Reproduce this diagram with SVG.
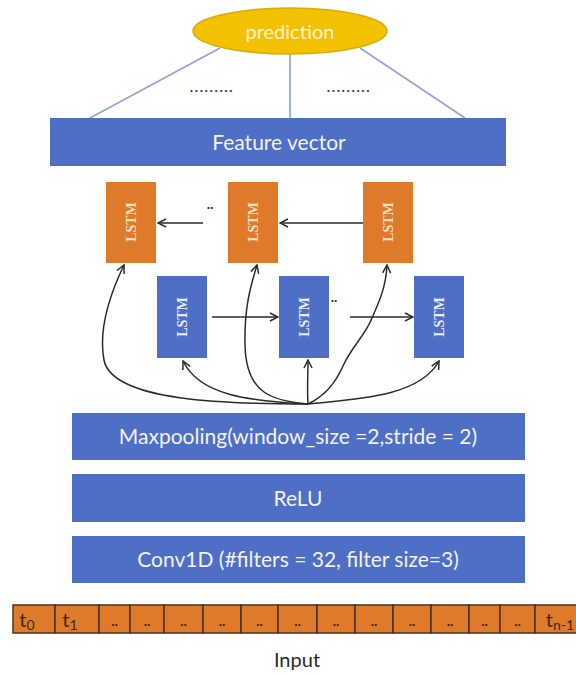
<svg xmlns="http://www.w3.org/2000/svg" width="576" height="675" viewBox="0 0 576 675">
  <style>
    .bar { fill: #4E6FC6; }
    .bar-text { font-family: Lato, "Open Sans", sans-serif; font-size: 21px; fill: #F3F1EA; text-anchor: middle; }
    .lstm-o { fill: #E07A2B; }
    .lstm-b { fill: #4E6FC6; }
    .lstm-text { font-family: "Liberation Serif", serif; font-size: 14px; font-weight: bold; text-anchor: middle; }
    .lt-o { fill: #F6DFC2; }
    .lt-b { fill: #E8ECF7; }
    .fan { stroke: #8FA3D0; stroke-width: 1.6; fill: none; }
    .flow { stroke: #2B2B2B; stroke-width: 1.5; fill: none; marker-end: url(#arr); }
    .cell { fill: #E07A2B; stroke: #4A3220; stroke-width: 1.5; }
    .cell-text { font-family: Lato, "Open Sans", sans-serif; font-size: 20px; fill: #3A2A1C; text-anchor: middle; }
    .dots { font-family: Lato, "Open Sans", sans-serif; font-size: 14px; fill: #3A2A1C; text-anchor: middle; font-weight: bold; }
    .ellipsis { font-family: Lato, sans-serif; font-size: 14px; fill: #3A3A50; text-anchor: middle; font-weight: bold; letter-spacing: 1.6px; }
  </style>
  <defs>
    <marker id="arr" viewBox="0 0 10 10" refX="9" refY="5" markerWidth="10" markerHeight="10" markerUnits="userSpaceOnUse" orient="auto">
      <path d="M1,1 L9,5 L1,9" fill="none" stroke="#2B2B2B" stroke-width="1.5"/>
    </marker>
  </defs>

  <rect width="576" height="675" fill="#FFFFFF"/>

  <!-- output head -->
  <g id="fan-lines">
    <line class="fan" x1="220" y1="48" x2="90" y2="118"/>
    <line class="fan" x1="290" y1="54" x2="290" y2="118"/>
    <line class="fan" x1="360" y1="48" x2="465" y2="118"/>
    <text class="ellipsis" x="212" y="92">.........</text>
    <text class="ellipsis" x="349" y="92">.........</text>
  </g>
  <g id="prediction">
    <ellipse cx="290" cy="31" rx="97" ry="23" fill="#F2C100" stroke="#D9AD00" stroke-width="1.5"/>
    <text x="290" y="39" font-family="Lato, 'Open Sans', sans-serif" font-size="20" fill="#FBF3D6" text-anchor="middle">prediction</text>
  </g>
  <g id="feature-vector">
    <rect class="bar" x="50" y="118" width="456" height="48"/>
    <text class="bar-text" x="279" y="150" font-size="20">Feature vector</text>
  </g>

  <!-- backward LSTM row -->
  <g id="lstm-back-1">
    <rect class="lstm-o" x="106" y="182" width="50" height="81"/>
    <text class="lstm-text lt-o" transform="translate(131,222) rotate(-90)" y="5">LSTM</text>
  </g>
  <g id="lstm-back-2">
    <rect class="lstm-o" x="228" y="182" width="50" height="81"/>
    <text class="lstm-text lt-o" transform="translate(253,222) rotate(-90)" y="5">LSTM</text>
  </g>
  <g id="lstm-back-3">
    <rect class="lstm-o" x="363" y="182" width="50" height="81"/>
    <text class="lstm-text lt-o" transform="translate(388,222) rotate(-90)" y="5">LSTM</text>
  </g>

  <!-- forward LSTM row -->
  <g id="lstm-fwd-1">
    <rect class="lstm-b" x="157" y="276" width="50" height="82"/>
    <text class="lstm-text lt-b" transform="translate(182,317) rotate(-90)" y="5">LSTM</text>
  </g>
  <g id="lstm-fwd-2">
    <rect class="lstm-b" x="279" y="276" width="50" height="82"/>
    <text class="lstm-text lt-b" transform="translate(304,317) rotate(-90)" y="5">LSTM</text>
  </g>
  <g id="lstm-fwd-3">
    <rect class="lstm-b" x="414" y="276" width="50" height="82"/>
    <text class="lstm-text lt-b" transform="translate(439,317) rotate(-90)" y="5">LSTM</text>
  </g>

  <!-- connectors -->
  <g id="connectors">
    <line class="flow" x1="203" y1="223" x2="158" y2="223"/>
    <line class="flow" x1="363" y1="223" x2="280" y2="223"/>
    <line class="flow" x1="212" y1="317" x2="278" y2="317"/>
    <line class="flow" x1="350" y1="317" x2="413" y2="317"/>
    <text class="dots" x="210" y="209">..</text>
    <text class="dots" x="334" y="302">..</text>

    <path class="flow" d="M308,404 C230,404 112,402 104,360 C98,328 112,290 124,265"/>
    <path class="flow" d="M308,404 C250,401 200,396 183,361"/>
    <path class="flow" d="M308,404 C270,401 246,392 245,345 C244,305 252,282 257,265"/>
    <path class="flow" d="M308,404 C307,390 308,375 308,360"/>
    <path class="flow" d="M308,404 C325,396 336,382 343,366 C352,346 365,336 372,318 C380,300 386,286 387,265"/>
    <path class="flow" d="M308,404 C360,399 420,396 439,361"/>
  </g>

  <!-- convolutional front end -->
  <g id="maxpooling">
    <rect class="bar" x="72" y="413" width="453" height="47"/>
    <text class="bar-text" x="298" y="444">Maxpooling(window_size =2,stride = 2)</text>
  </g>
  <g id="relu">
    <rect class="bar" x="72" y="474" width="453" height="48"/>
    <text class="bar-text" x="298" y="506">ReLU</text>
  </g>
  <g id="conv1d">
    <rect class="bar" x="72" y="536" width="453" height="47"/>
    <text class="bar-text" x="298" y="567">Conv1D (#filters = 32, filter size=3)</text>
  </g>

  <!-- input sequence -->
  <g id="input">
    <rect class="cell" x="13" y="605" width="42" height="28"/>
    <rect class="cell" x="55" y="605" width="44" height="28"/>
    <rect class="cell" x="99" y="605" width="31" height="28"/>
    <rect class="cell" x="130" y="605" width="34" height="28"/>
    <rect class="cell" x="164" y="605" width="39" height="28"/>
    <rect class="cell" x="203" y="605" width="38" height="28"/>
    <rect class="cell" x="241" y="605" width="37" height="28"/>
    <rect class="cell" x="278" y="605" width="39" height="28"/>
    <rect class="cell" x="317" y="605" width="38" height="28"/>
    <rect class="cell" x="355" y="605" width="38" height="28"/>
    <rect class="cell" x="393" y="605" width="38" height="28"/>
    <rect class="cell" x="431" y="605" width="38" height="28"/>
    <rect class="cell" x="469" y="605" width="31" height="28"/>
    <rect class="cell" x="500" y="605" width="35" height="28"/>
    <rect class="cell" x="535" y="605" width="43" height="28"/>

    <text class="cell-text" x="27" y="627">t<tspan font-size="14" dy="3">0</tspan></text>
    <text class="cell-text" x="70" y="627">t<tspan font-size="14" dy="3">1</tspan></text>
    <text class="dots" x="114.5" y="626">..</text>
    <text class="dots" x="147" y="626">..</text>
    <text class="dots" x="183.5" y="626">..</text>
    <text class="dots" x="222" y="626">..</text>
    <text class="dots" x="259.5" y="626">..</text>
    <text class="dots" x="297.5" y="626">..</text>
    <text class="dots" x="336" y="626">..</text>
    <text class="dots" x="374" y="626">..</text>
    <text class="dots" x="412" y="626">..</text>
    <text class="dots" x="450" y="626">..</text>
    <text class="dots" x="484.5" y="626">..</text>
    <text class="dots" x="517.5" y="626">..</text>
    <text class="cell-text" x="560" y="627">t<tspan font-size="14" dy="3">n-1</tspan></text>

    <text x="297" y="667" font-family="Lato, 'Open Sans', sans-serif" font-size="20" fill="#2A2A2A" text-anchor="middle">Input</text>
  </g>
</svg>
